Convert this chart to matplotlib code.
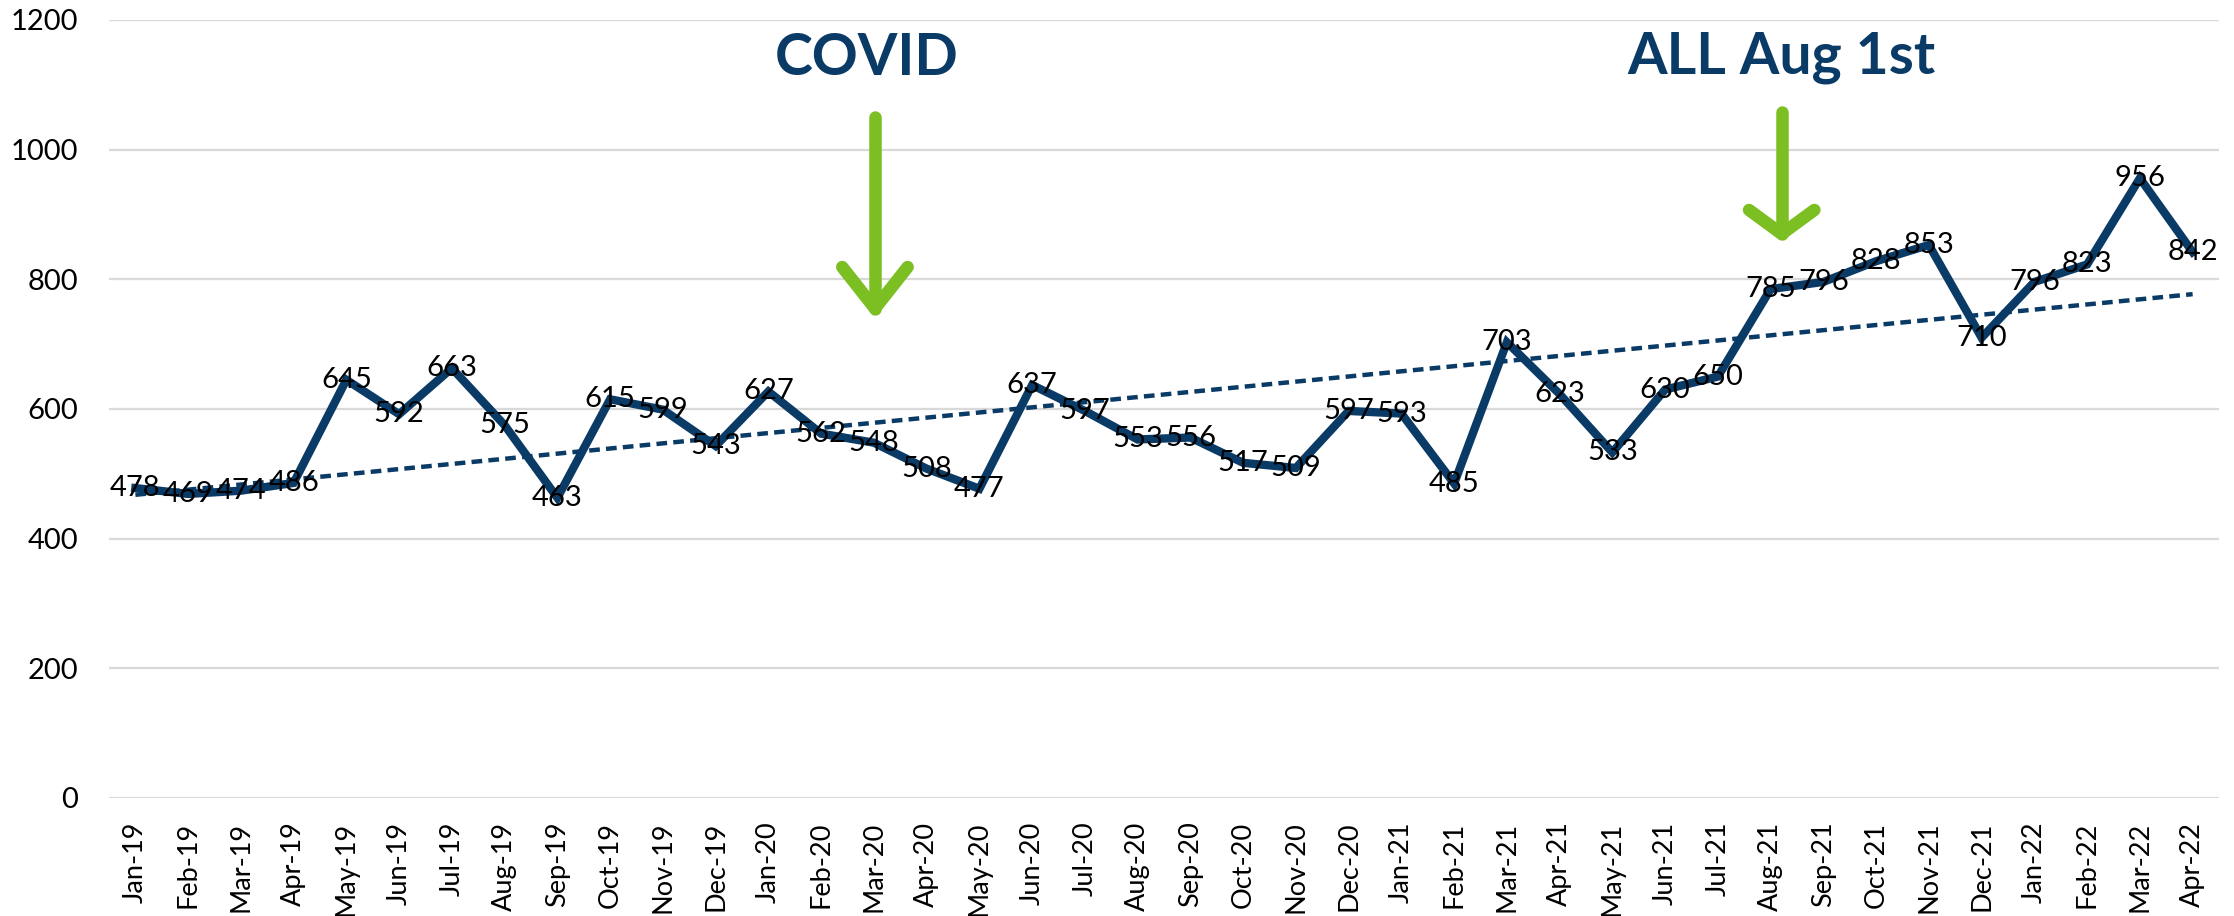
import numpy as np
import matplotlib
matplotlib.use("Agg")
import matplotlib.pyplot as plt

months = ["Jan-19", "Feb-19", "Mar-19", "Apr-19", "May-19", "Jun-19", "Jul-19", "Aug-19",
          "Sep-19", "Oct-19", "Nov-19", "Dec-19", "Jan-20", "Feb-20", "Mar-20", "Apr-20",
          "May-20", "Jun-20", "Jul-20", "Aug-20", "Sep-20", "Oct-20", "Nov-20", "Dec-20",
          "Jan-21", "Feb-21", "Mar-21", "Apr-21", "May-21", "Jun-21", "Jul-21", "Aug-21",
          "Sep-21", "Oct-21", "Nov-21", "Dec-21", "Jan-22", "Feb-22", "Mar-22", "Apr-22"]
values = [478, 469, 474, 486, 645, 592, 663, 575, 463, 615, 599, 543, 627, 562, 548, 508,
          477, 637, 597, 553, 556, 517, 509, 597, 593, 485, 703, 623, 533, 630, 650, 785,
          796, 828, 853, 710, 796, 823, 956, 842]
y_ticks = [0, 200, 400, 600, 800, 1000, 1200]

NAVY = "#0A3A66"
GREEN = "#7CBF22"
FONT = "Lato"

fig = plt.figure(figsize=(22.34, 9.16), dpi=100)
ax = fig.add_axes([109 / 2234, 1 - 798 / 916, 2110 / 2234, 778 / 916])

x = np.arange(len(values))
y = np.array(values, dtype=float)

ax.set_xlim(-0.5, len(values) - 0.5)
ax.set_ylim(0, 1200)
ax.set_yticks(y_ticks)
ax.set_yticklabels([str(t) for t in y_ticks], fontsize=21, family=FONT)
ax.set_xticks(x)
ax.set_xticklabels(months, rotation=90, fontsize=19.5, family=FONT)
ax.tick_params(axis="both", length=0)
ax.tick_params(axis="y", pad=22)
ax.tick_params(axis="x", pad=17)
for s in ax.spines.values():
    s.set_visible(False)
ax.grid(axis="y", color="#d9d9d9", linewidth=1.6)
ax.set_axisbelow(True)

# trendline (linear fit)
m, b = np.polyfit(x, y, 1)
ax.plot(x, m * x + b, color=NAVY, linewidth=3.2, linestyle=(0, (2.4, 1.4)), zorder=2)

# main line
ax.plot(x, y, color=NAVY, linewidth=6, solid_joinstyle="miter", zorder=3)

# data labels centred on points
for xi, v in zip(x, values):
    ax.text(xi, v, str(v), ha="center", va="center", fontsize=21, family=FONT,
            color="black", zorder=4)

# annotations
def down_arrow(xc, ytop, ytip, yarm, hw):
    kw = dict(color=GREEN, linewidth=9, solid_capstyle="round", zorder=5)
    ax.plot([xc, xc], [ytop, ytip], **kw)
    ax.plot([xc - hw, xc, xc + hw], [yarm, ytip, yarm], solid_joinstyle="round", **kw)

ax.text(13.87, 1115, "COVID", ha="center", va="baseline", fontsize=41,
        fontweight="bold", family=FONT, color=NAVY)
down_arrow(14.02, 1050, 755, 819, 0.62)

ax.text(31.2, 1118, "ALL Aug 1st", ha="center", va="baseline", fontsize=41,
        fontweight="bold", family=FONT, color=NAVY)
down_arrow(31.21, 1058, 870, 907, 0.62)

fig.savefig("out.png", dpi=100)
